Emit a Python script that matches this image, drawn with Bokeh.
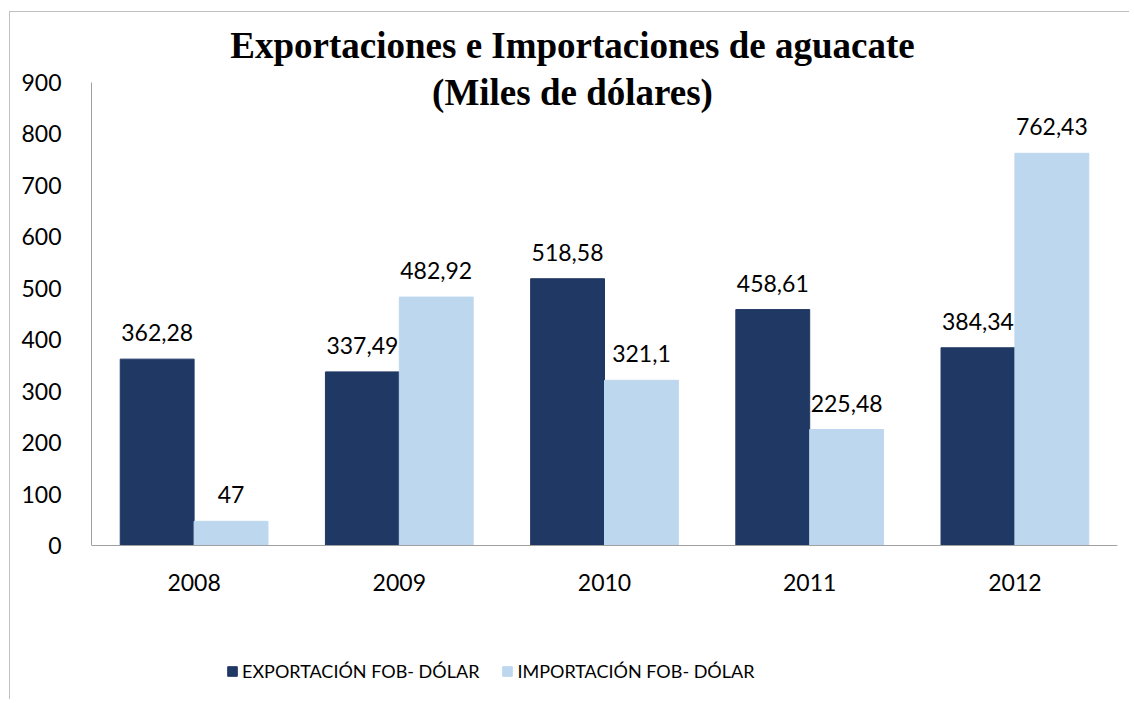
from bokeh.plotting import figure
from bokeh.models import ColumnDataSource, FixedTicker, LabelSet, Label, Legend, LegendItem, Range1d
from bokeh.transform import dodge
from bokeh.core.properties import value
from bokeh.embed import file_html
from bokeh.resources import INLINE

years = ["2008", "2009", "2010", "2011", "2012"]
exportacion = [362.28, 337.49, 518.58, 458.61, 384.34]
importacion = [47, 482.92, 321.1, 225.48, 762.43]
series_names = ["EXPORTACIÓN FOB- DÓLAR", "IMPORTACIÓN FOB- DÓLAR"]
y_ticks = [0, 100, 200, 300, 400, 500, 600, 700, 800, 900]
title_lines = ["Exportaciones e Importaciones de aguacate", "(Miles de dólares)"]

def fmt(v):
    s = ("%.2f" % v).rstrip("0").rstrip(".")
    return s.replace(".", ",")

src = ColumnDataSource(dict(
    years=years,
    exp=exportacion,
    imp=importacion,
    exp_lbl=[fmt(v) for v in exportacion],
    imp_lbl=[fmt(v) for v in importacion],
))

DARK = "#203864"
LIGHT = "#BDD7EE"
FONT = "Lato"

# layout (canvas pixels)
W, H = 1120, 688
FRAME_H = H                  # frame covers the full canvas height
ZERO_FROM_BOTTOM = 155       # pixel height below the value 0
PX_PER_UNIT = 463 / 900.0
y_start = -ZERO_FROM_BOTTOM / PX_PER_UNIT
y_end = (FRAME_H - ZERO_FROM_BOTTOM) / PX_PER_UNIT

p = figure(x_range=years, y_range=Range1d(y_start, y_end), width=W, height=H,
           output_backend="svg", toolbar_location=None,
           min_border_left=81, min_border_right=13, min_border_top=0, min_border_bottom=0)
p.title.visible = False
p.styles = {"border-left": "1px solid #c0c0c0", "border-top": "1px solid #c0c0c0",
            "margin-left": "9px", "margin-top": "11px"}
p.outline_line_color = None
p.xgrid.grid_line_color = None
p.ygrid.grid_line_color = None

r1 = p.vbar(x=dodge("years", -0.18, range=p.x_range), top="exp", width=0.36, source=src,
            fill_color=DARK, line_color=DARK)
r2 = p.vbar(x=dodge("years", 0.18, range=p.x_range), top="imp", width=0.36, source=src,
            fill_color=LIGHT, line_color=LIGHT)

for col, lbl, off in (("exp", "exp_lbl", -0.18), ("imp", "imp_lbl", 0.18)):
    p.add_layout(LabelSet(x=dodge("years", off, range=p.x_range), y=col, text=lbl, source=src,
                          text_align="center", text_baseline="alphabetic", y_offset=18,
                          text_font=value(FONT), text_font_size="23px", text_color="black"))

for ax in (p.xaxis[0], p.yaxis[0]):
    ax.major_tick_line_color = None
    ax.minor_tick_line_color = None
    ax.axis_line_color = "#a0a0a0"
    ax.major_label_text_font = FONT
    ax.major_label_text_font_size = "23px"
    ax.major_label_text_color = "black"
p.yaxis.ticker = FixedTicker(ticks=y_ticks)
p.yaxis.bounds = (0, 900)
p.yaxis.major_label_standoff = 24
p.xaxis.fixed_location = 0
p.xaxis.major_label_standoff = 22

for line, yy in zip(title_lines, (655, 608)):
    p.add_layout(Label(x=481, y=yy, x_units="screen", y_units="screen", text=line,
                       text_align="center", text_baseline="middle", text_font="Liberation Serif",
                       text_font_style="bold", text_font_size="37px", text_color="black"))

legend = Legend(items=[LegendItem(label=series_names[0], renderers=[r1]),
                       LegendItem(label=series_names[1], renderers=[r2])],
                orientation="horizontal", location=(135, 18),
                glyph_width=12, glyph_height=12, label_standoff=4, spacing=22,
                padding=0, margin=0, border_line_color=None, background_fill_alpha=0,
                label_text_font=FONT, label_text_font_size="18px", label_text_color="black")
p.add_layout(legend, "center")

open("out.html", "w").write(file_html(p, INLINE))
